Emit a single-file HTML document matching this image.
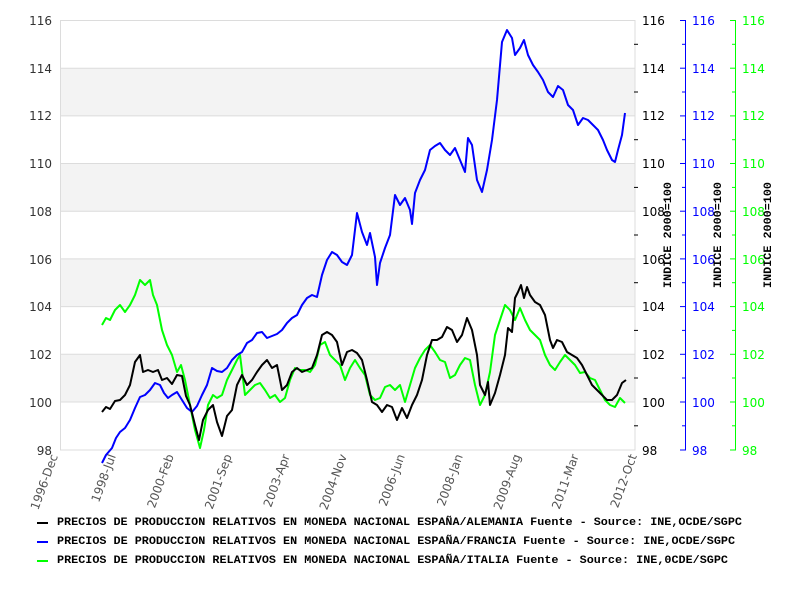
<!DOCTYPE html>
<html><head><meta charset="utf-8"><style>
html,body{margin:0;padding:0;background:#fff;}
svg{display:block;}
text{font-family:"DejaVu Sans","Liberation Sans",sans-serif;font-size:12px;}
.m{font-family:"Liberation Mono","DejaVu Sans Mono",monospace;font-size:11px;font-weight:bold;}
</style></head><body>
<svg width="800" height="600" viewBox="0 0 800 600" xmlns="http://www.w3.org/2000/svg">
<rect x="60.5" y="68.2" width="574.5" height="47.7" fill="#f3f3f3"/>
<rect x="60.5" y="163.5" width="574.5" height="47.7" fill="#f3f3f3"/>
<rect x="60.5" y="258.9" width="574.5" height="47.7" fill="#f3f3f3"/>
<rect x="60.5" y="354.3" width="574.5" height="47.7" fill="#f3f3f3"/>
<g stroke="#dcdcdc" stroke-width="1">
<line x1="60.5" y1="68.2" x2="635" y2="68.2"/><line x1="60.5" y1="115.9" x2="635" y2="115.9"/>
<line x1="60.5" y1="163.5" x2="635" y2="163.5"/><line x1="60.5" y1="211.2" x2="635" y2="211.2"/>
<line x1="60.5" y1="258.9" x2="635" y2="258.9"/><line x1="60.5" y1="306.6" x2="635" y2="306.6"/>
<line x1="60.5" y1="354.3" x2="635" y2="354.3"/><line x1="60.5" y1="402" x2="635" y2="402"/>
<rect x="60.5" y="20.5" width="574.5" height="429.5" fill="none"/>
</g>
<g fill="#333" text-anchor="end">
<text x="52" y="25">116</text><text x="52" y="73">114</text><text x="52" y="120">112</text><text x="52" y="168">110</text><text x="52" y="216">108</text><text x="52" y="264">106</text><text x="52" y="311">104</text><text x="52" y="359">102</text><text x="52" y="407">100</text><text x="52" y="455">98</text>
</g>
<g fill="#000"><text x="642" y="25">116</text><text x="642" y="73">114</text><text x="642" y="120">112</text><text x="642" y="168">110</text><text x="642" y="216">108</text><text x="642" y="264">106</text><text x="642" y="311">104</text><text x="642" y="359">102</text><text x="642" y="407">100</text><text x="642" y="455">98</text></g>
<g stroke="#000"><line x1="634" y1="44.3" x2="638" y2="44.3"/><line x1="634" y1="92" x2="638" y2="92"/><line x1="634" y1="139.7" x2="638" y2="139.7"/><line x1="634" y1="187.4" x2="638" y2="187.4"/><line x1="634" y1="235" x2="638" y2="235"/><line x1="634" y1="282.7" x2="638" y2="282.7"/><line x1="634" y1="330.4" x2="638" y2="330.4"/><line x1="634" y1="378" x2="638" y2="378"/><line x1="634" y1="425.8" x2="638" y2="425.8"/></g>
<g stroke="#0000ff"><line x1="685.5" y1="20.5" x2="685.5" y2="450"/>
<line x1="680" y1="20.5" x2="686" y2="20.5"/><line x1="680" y1="68.2" x2="686" y2="68.2"/><line x1="680" y1="115.9" x2="686" y2="115.9"/><line x1="680" y1="163.5" x2="686" y2="163.5"/><line x1="680" y1="211.2" x2="686" y2="211.2"/><line x1="680" y1="258.9" x2="686" y2="258.9"/><line x1="680" y1="306.6" x2="686" y2="306.6"/><line x1="680" y1="354.3" x2="686" y2="354.3"/><line x1="680" y1="402" x2="686" y2="402"/><line x1="680" y1="450" x2="686" y2="450"/>
<line x1="682" y1="44.3" x2="686" y2="44.3"/><line x1="682" y1="92" x2="686" y2="92"/><line x1="682" y1="139.7" x2="686" y2="139.7"/><line x1="682" y1="187.4" x2="686" y2="187.4"/><line x1="682" y1="235" x2="686" y2="235"/><line x1="682" y1="282.7" x2="686" y2="282.7"/><line x1="682" y1="330.4" x2="686" y2="330.4"/><line x1="682" y1="378" x2="686" y2="378"/><line x1="682" y1="425.8" x2="686" y2="425.8"/></g>
<g fill="#0000ff"><text x="692" y="25">116</text><text x="692" y="73">114</text><text x="692" y="120">112</text><text x="692" y="168">110</text><text x="692" y="216">108</text><text x="692" y="264">106</text><text x="692" y="311">104</text><text x="692" y="359">102</text><text x="692" y="407">100</text><text x="692" y="455">98</text></g>
<g stroke="#00ff00"><line x1="735.5" y1="20.5" x2="735.5" y2="450"/>
<line x1="730" y1="20.5" x2="736" y2="20.5"/><line x1="730" y1="68.2" x2="736" y2="68.2"/><line x1="730" y1="115.9" x2="736" y2="115.9"/><line x1="730" y1="163.5" x2="736" y2="163.5"/><line x1="730" y1="211.2" x2="736" y2="211.2"/><line x1="730" y1="258.9" x2="736" y2="258.9"/><line x1="730" y1="306.6" x2="736" y2="306.6"/><line x1="730" y1="354.3" x2="736" y2="354.3"/><line x1="730" y1="402" x2="736" y2="402"/><line x1="730" y1="450" x2="736" y2="450"/>
<line x1="732" y1="44.3" x2="736" y2="44.3"/><line x1="732" y1="92" x2="736" y2="92"/><line x1="732" y1="139.7" x2="736" y2="139.7"/><line x1="732" y1="187.4" x2="736" y2="187.4"/><line x1="732" y1="235" x2="736" y2="235"/><line x1="732" y1="282.7" x2="736" y2="282.7"/><line x1="732" y1="330.4" x2="736" y2="330.4"/><line x1="732" y1="378" x2="736" y2="378"/><line x1="732" y1="425.8" x2="736" y2="425.8"/></g>
<g fill="#00ff00"><text x="742" y="25">116</text><text x="742" y="73">114</text><text x="742" y="120">112</text><text x="742" y="168">110</text><text x="742" y="216">108</text><text x="742" y="264">106</text><text x="742" y="311">104</text><text x="742" y="359">102</text><text x="742" y="407">100</text><text x="742" y="455">98</text></g>
<text class="m" transform="translate(671,288) rotate(-90)" textLength="106" lengthAdjust="spacingAndGlyphs">INDICE 2000=100</text>
<text class="m" transform="translate(721,288) rotate(-90)" textLength="106" lengthAdjust="spacingAndGlyphs">INDICE 2000=100</text>
<text class="m" transform="translate(771,288) rotate(-90)" textLength="106" lengthAdjust="spacingAndGlyphs">INDICE 2000=100</text>
<g fill="#555" text-anchor="end" font-size="12">
<text transform="translate(58,456) rotate(-70)">1996-Dec</text>
<text transform="translate(116,456) rotate(-70)">1998-Jul</text>
<text transform="translate(174,456) rotate(-70)">2000-Feb</text>
<text transform="translate(232,456) rotate(-70)">2001-Sep</text>
<text transform="translate(290,456) rotate(-70)">2003-Apr</text>
<text transform="translate(347,456) rotate(-70)">2004-Nov</text>
<text transform="translate(405,456) rotate(-70)">2006-Jun</text>
<text transform="translate(463,456) rotate(-70)">2008-Jan</text>
<text transform="translate(521,456) rotate(-70)">2009-Aug</text>
<text transform="translate(579,456) rotate(-70)">2011-Mar</text>
<text transform="translate(637,456) rotate(-70)">2012-Oct</text>
</g>
<g fill="none" stroke-width="2" stroke-linejoin="round">
<polyline stroke="#00ff00" points="102,325 106,318 110,320 115,310 120,305 125,312 130,305 135,295 140,280 145,285 150,280 153,295 157,305 162,330 167,345 172,355 177,372 181,365 185,380 190,405 195,430 200,448 204,430 208,405 213,395 217,398 222,395 227,380 232,370 237,360 240,355 245,395 250,390 255,385 260,383 265,390 270,398 275,395 280,402 285,398 290,380 295,368 300,370 305,370 310,372 315,365 320,345 325,342 330,355 335,360 340,365 345,380 350,368 355,360 360,368 365,375 370,395 375,400 380,398 385,387 390,385 395,390 400,385 405,402 410,385 415,368 420,358 425,350 430,345 435,352 440,360 445,362 450,378 455,375 460,365 465,358 470,360 475,385 480,405 485,395 490,372 495,335 500,320 505,305 510,310 515,320 520,308 525,320 530,330 535,335 540,340 545,355 550,365 555,370 560,362 565,355 570,360 575,365 580,373 585,372 590,378 595,380 600,390 605,400 610,405 615,407 620,398 625,403"/>
<polyline stroke="#0000ff" points="102,463 106,455 112,448 116,438 120,432 125,428 130,420 135,408 140,397 145,395 150,390 155,383 160,385 164,393 168,398 172,395 177,392 182,400 187,408 192,412 197,406 202,395 207,385 212,368 217,371 222,372 227,368 232,360 237,355 242,352 247,343 252,340 257,333 262,332 267,338 272,336 277,334 282,330 287,323 292,318 297,315 302,305 307,298 312,295 317,297 322,275 327,260 332,252 337,255 342,262 347,265 352,255 357,213 362,232 367,245 370,233 375,257 377,285 380,263 385,248 390,235 395,195 400,205 405,198 410,210 412,224 415,193 420,180 425,170 430,150 435,146 440,143 445,150 450,155 455,148 460,160 465,172 468,138 472,145 477,180 482,192 487,170 492,140 497,100 502,42 507,30 512,38 515,55 520,48 524,40 528,55 533,65 538,72 543,80 548,92 553,97 558,86 563,90 568,105 573,110 578,125 583,118 588,120 593,125 598,130 603,140 607,150 612,160 615,162 618,150 622,135 625,113"/>
<polyline stroke="#000000" points="102,412 106,407 110,409 115,401 120,400 125,395 130,385 135,362 140,355 143,372 148,370 153,372 158,370 162,380 167,378 172,384 177,375 182,376 186,396 190,405 195,425 199,440 203,420 208,410 213,405 217,422 222,436 227,416 232,410 237,385 242,375 247,385 252,380 257,372 262,365 267,360 272,368 277,365 282,390 287,385 292,372 297,368 302,372 307,370 312,368 317,355 322,335 327,332 332,335 337,342 342,365 347,352 352,350 357,353 362,360 367,380 372,402 377,405 382,412 387,405 392,407 397,420 402,408 407,418 412,405 417,395 422,380 427,355 432,340 437,340 442,337 447,327 452,330 457,342 462,335 467,318 472,330 477,355 480,385 485,395 488,382 490,405 495,393 500,375 505,355 508,328 512,332 515,298 518,292 521,285 524,298 527,287 530,295 535,302 540,305 545,315 550,340 553,348 557,340 562,342 567,352 572,355 577,358 582,365 587,375 592,385 597,390 602,395 607,400 612,400 617,395 622,383 626,380"/>
</g>
<rect x="37" y="522" width="11" height="2" fill="#000"/>
<rect x="37" y="541" width="11" height="2" fill="#0000ff"/>
<rect x="37" y="560" width="11" height="2" fill="#00ff00"/>
<g fill="#000">
<text class="m" x="57" y="525" textLength="685" lengthAdjust="spacingAndGlyphs">PRECIOS DE PRODUCCION RELATIVOS EN MONEDA NACIONAL ESPAÑA/ALEMANIA  Fuente - Source: INE,OCDE/SGPC</text>
<text class="m" x="57" y="544" textLength="678" lengthAdjust="spacingAndGlyphs">PRECIOS DE PRODUCCION RELATIVOS EN MONEDA NACIONAL ESPAÑA/FRANCIA  Fuente - Source: INE,OCDE/SGPC</text>
<text class="m" x="57" y="563" textLength="671" lengthAdjust="spacingAndGlyphs">PRECIOS DE PRODUCCION RELATIVOS EN MONEDA NACIONAL ESPAÑA/ITALIA  Fuente - Source: INE,0CDE/SGPC</text>
</g>
</svg>
</body></html>
